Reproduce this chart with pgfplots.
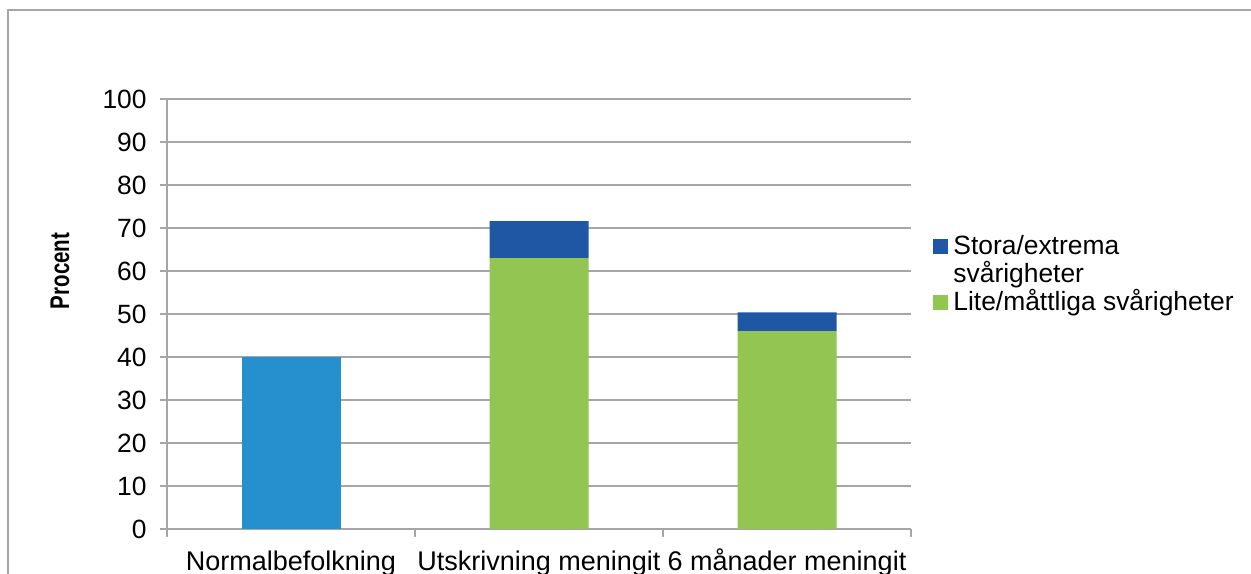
\documentclass[border=0pt]{standalone}
\usepackage{pgfplots}
\pgfplotsset{compat=1.18}
\usepackage{fontspec}
\setmainfont{Liberation Sans}
\definecolor{cNorm}{RGB}{38,143,206}
\definecolor{cDark}{RGB}{31,87,165}
\definecolor{cGreen}{RGB}{147,197,83}
\definecolor{gridc}{RGB}{165,165,170}
\begin{document}
\fontsize{13.2}{15}\selectfont
\begin{tikzpicture}
\useasboundingbox (0,0) rectangle (625.5pt,286.5pt);
\draw[gridc, line width=1pt] (4pt,-2pt) -- (4pt,281.5pt) -- (628pt,281.5pt);
\begin{axis}[
  at={(83.5pt,22pt)}, anchor=south west,
  scale only axis, width=372pt, height=215pt,
  ybar stacked, bar width=49.5pt,
  xmin=-0.5, xmax=2.5, ymin=0, ymax=100,
  xtick={0,1,2},
  xticklabels={Normalbefolkning, Utskrivning meningit, 6 månader meningit},
  ytick={0,10,...,100},
  axis x line*=bottom, axis y line*=left,
  axis line style={gridc, line width=1pt, -},
  ymajorgrids, grid style={gridc, line width=1pt},
  tick align=outside,
  major tick length=3.5pt,
  xtick style={draw=none},
  ytick style={gridc, line width=1pt},
  extra x ticks={-0.5,0.5,1.5,2.5},
  extra x tick labels={},
  extra x tick style={grid=none, major tick length=4pt, xtick style={draw=gridc, line width=1pt}},
  /pgf/number format/assume math mode=true,
  tick label style={font=\fontsize{13.2}{15}\selectfont, text=black},
  yticklabel style={inner sep=0pt, xshift=-6.5pt},
  xticklabel style={font=\fontsize{13.5}{15}\selectfont, inner sep=0pt, anchor=north,
    text height=9.7pt, text depth=2.8pt, yshift=-7.5pt},
  ylabel={\scalebox{0.76}[1]{\fontsize{13.5}{15}\selectfont\bfseries Procent}},
  ylabel style={at={(rel axis cs:-0.1438,0.6)}, anchor=center},
  reverse legend,
  legend image code/.code={\fill[#1] (0pt,0pt) rectangle (7.5pt,7.5pt);},
  legend style={at={(rel axis cs:1.0296,0.684)}, anchor=north west, draw=none, fill=none,
    inner sep=0pt, row sep=1.5pt, column sep=2.5pt,
    font=\fontsize{13.2}{14.5}\selectfont,
    nodes={inner sep=0pt, anchor=base west, text height=9.5pt, text depth=3pt}},
]
\addplot[fill=cNorm, draw=none, forget plot] coordinates {(0,40) (1,0) (2,0)};
\addplot[fill=cGreen, draw=none] coordinates {(0,0) (1,63) (2,46)};
\addlegendentry{Lite/måttliga svårigheter}
\addlegendimage{empty legend}
\addlegendentry{svårigheter}
\addplot[fill=cDark, draw=none] coordinates {(0,0) (1,8.6) (2,4.4)};
\addlegendentry{Stora/extrema}
\end{axis}
\end{tikzpicture}
\end{document}
